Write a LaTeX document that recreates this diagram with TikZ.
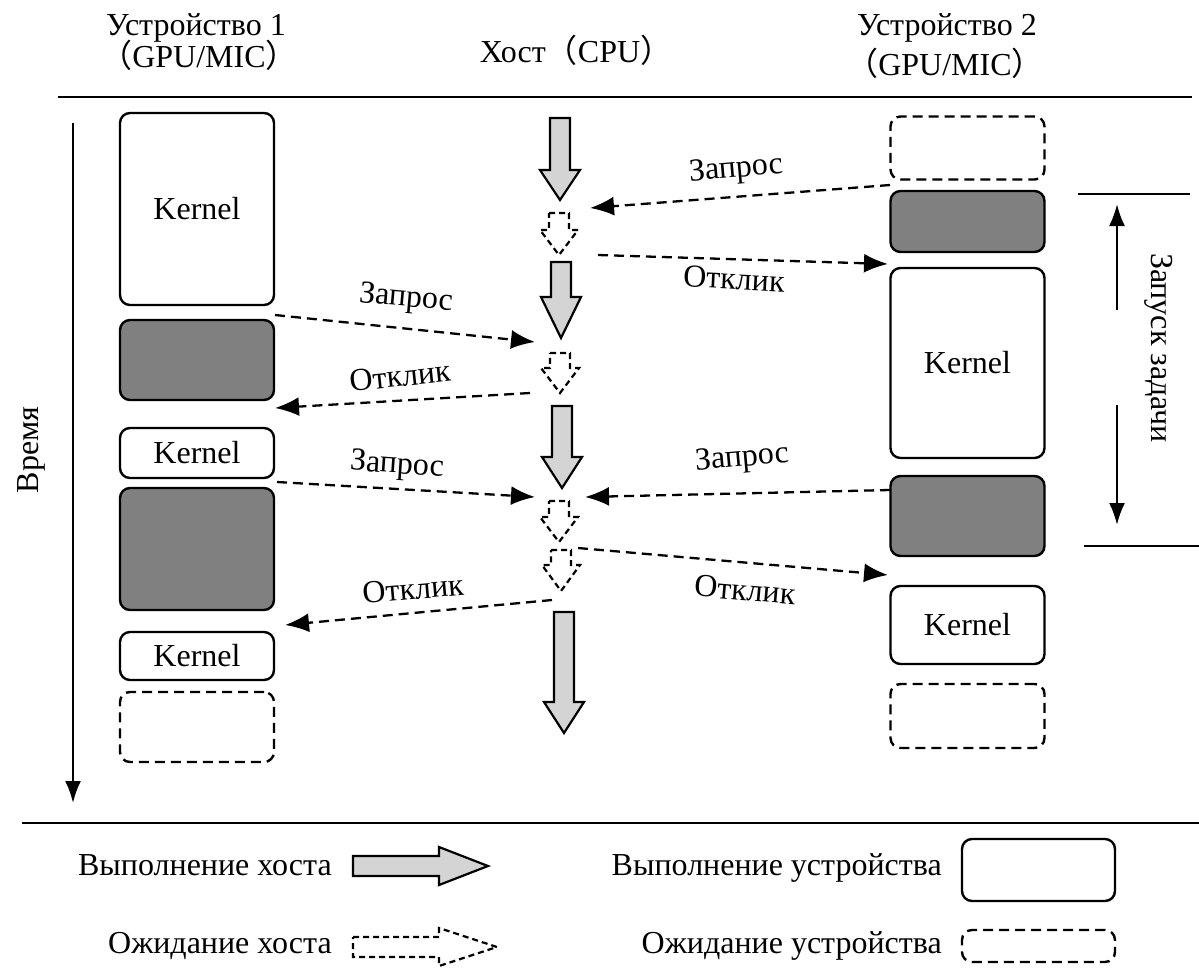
\documentclass[tikz,border=0pt]{standalone}
\usepackage{fontspec}
\setmainfont{Liberation Serif}
\newfontfamily\cjkfont{Noto Sans CJK SC}
\usetikzlibrary{arrows.meta}

% full-width brackets
\newcommand\fwl{{\cjkfont （}}
\newcommand\fwr{{\cjkfont ）}}

% downward block arrow: style, centre x, top, head start, tip, head half-width
\newcommand\vblock[6]{%
  \draw[#1] ({#2-10},#3) -- ({#2+10},#3) -- ({#2+10},#4) -- ({#2+#6},#4)
    -- (#2,#5) -- ({#2-#6},#4) -- ({#2-10},#4) -- cycle;}
% rightward block arrow: style, centre y, left, head start, tip, head half-width
\newcommand\hblock[6]{%
  \draw[#1] (#3,{#2-10}) -- (#4,{#2-10}) -- (#4,{#2-#6}) -- (#5,#2)
    -- (#4,{#2+#6}) -- (#4,{#2+10}) -- (#3,{#2+10}) -- cycle;}

\begin{document}
\begin{tikzpicture}[x=1pt,y=-1pt,
  lbl/.style={font=\fontsize{32}{36}\selectfont, inner sep=0pt},
  run/.style={draw, line width=2.4pt, rounded corners=10pt, fill=white,
    inner sep=0pt, font=\fontsize{32}{36}\selectfont},
  busy/.style={run, fill=black!50},
  idle/.style={run, dash pattern=on 10pt off 6pt},
  msg/.style={line width=2.3pt, dash pattern=on 10pt off 6pt,
    -{Latex[length=24pt,width=19pt]}},
  hostrun/.style={draw, line width=2.2pt, fill=black!17, line join=miter},
  hostwait/.style={draw, line width=2.2pt, fill=white, dash pattern=on 6pt off 4pt},
  rulel/.style={line width=2.6pt},
  barl/.style={line width=2.2pt},
  timel/.style={line width=2.4pt, -{Latex[length=22pt,width=16pt]}}
]
\useasboundingbox (0,0) rectangle (1199,967);

% column headings
\node[lbl, anchor=base] (dev1) at (196,35) {Устройство 1};
\node[lbl, anchor=base] (dev1t) at (199,67) {\fwl GPU/MIC\fwr};
\node[lbl, anchor=base] (host) at (576,62) {Хост\fwl CPU\fwr};
\node[lbl, anchor=base] (dev2) at (947,35) {Устройство 2};
\node[lbl, anchor=base] (dev2t) at (945,75) {\fwl GPU/MIC\fwr};

% horizontal rules
\coordinate (ra) at (58,97);  \coordinate (rb) at (1192,97);
\coordinate (rc) at (22,823); \coordinate (rd) at (1199,823);
\draw[rulel] (ra) -- (rb);
\draw[rulel] (rc) -- (rd);

% time axis
\coordinate (t0) at (73,123); \coordinate (t1) at (73,803);
\draw[timel] (t0) -- (t1);
\node[lbl, rotate=90] (tl) at (31,450) {Время};

% device 1
\node[run,  minimum width=154, minimum height=192] (k1) at (197,209) {Kernel};
\node[busy, minimum width=154, minimum height=80]  (g1) at (197,360) {};
\node[run,  minimum width=154, minimum height=50]  (k2) at (197,453) {Kernel};
\node[busy, minimum width=154, minimum height=122] (g2) at (197,549) {};
\node[run,  minimum width=154, minimum height=48]  (k3) at (197,656) {Kernel};
\node[idle, minimum width=154, minimum height=70]  (w1) at (197,727) {};

% device 2
\node[idle, minimum width=154, minimum height=63]  (w2) at (967.5,148) {};
\node[busy, minimum width=154, minimum height=61]  (g3) at (967.5,221.5) {};
\node[run,  minimum width=154, minimum height=190] (k4) at (967.5,363) {Kernel};
\node[busy, minimum width=154, minimum height=80]  (g4) at (967.5,516) {};
\node[run,  minimum width=154, minimum height=78]  (k5) at (967.5,625) {Kernel};
\node[idle, minimum width=154, minimum height=64]  (w3) at (967.5,716) {};

% host timeline
\vblock{hostrun}{560}{118}{170}{200}{20}
\vblock{hostwait}{559}{213}{230}{255}{19}
\vblock{hostrun}{561}{262}{297}{338}{20}
\vblock{hostwait}{560}{353}{368}{393}{19}
\vblock{hostrun}{562}{406}{457}{488}{20}
\vblock{hostwait}{559}{501}{517}{542}{19}
\vblock{hostwait}{561}{550}{565}{591}{19}
\vblock{hostrun}{564}{612}{702}{733}{20}

% request / response messages
\coordinate (a1) at (890,185); \coordinate (b1) at (590,208);
\coordinate (a2) at (598,255); \coordinate (b2) at (888,264);
\coordinate (a3) at (275,315); \coordinate (b3) at (535,342);
\coordinate (a4) at (530,393); \coordinate (b4) at (275,408);
\coordinate (a5) at (277,482); \coordinate (b5) at (535,497);
\coordinate (a6) at (890,490); \coordinate (b6) at (585,497);
\coordinate (a7) at (578,548); \coordinate (b7) at (888,575);
\coordinate (a8) at (552,600); \coordinate (b8) at (285,625);
\draw[msg] (a1) -- (b1);
\draw[msg] (a2) -- (b2);
\draw[msg] (a3) -- (b3);
\draw[msg] (a4) -- (b4);
\draw[msg] (a5) -- (b5);
\draw[msg] (a6) -- (b6);
\draw[msg] (a7) -- (b7);
\draw[msg] (a8) -- (b8);

\node[lbl, rotate=5]  (m1) at (736,170) {Запрос};
\node[lbl, rotate=-3] (m2) at (734,279) {Отклик};
\node[lbl, rotate=-5] (m3) at (406,299) {Запрос};
\node[lbl, rotate=6]  (m4) at (400,376) {Отклик};
\node[lbl, rotate=-4] (m5) at (397,466) {Запрос};
\node[lbl, rotate=5]  (m6) at (742,459) {Запрос};
\node[lbl, rotate=-5] (m7) at (745,590) {Отклик};
\node[lbl, rotate=5]  (m8) at (413,589) {Отклик};

% task launch span
\coordinate (s1a) at (1078,194); \coordinate (s1b) at (1190,194);
\coordinate (s2a) at (1084,546); \coordinate (s2b) at (1199,546);
\draw[barl] (s1a) -- (s1b);
\draw[barl] (s2a) -- (s2b);
\coordinate (u0) at (1117,310); \coordinate (u1) at (1117,204);
\coordinate (d0) at (1117,405); \coordinate (d1) at (1117,525);
\draw[timel] (u0) -- (u1);
\draw[timel] (d0) -- (d1);
\node[lbl, rotate=-90] (task) at (1159,348) {Запуск задачи};

% legend
\node[lbl, anchor=base east] (lg1) at (332,875) {Выполнение хоста};
\hblock{hostrun}{866}{353}{439}{488}{19}
\node[lbl, anchor=base east] (lg2) at (942,875) {Выполнение устройства};
\node[run, minimum width=153, minimum height=62] (lg3) at (1038.5,870) {};
\node[lbl, anchor=base east] (lg4) at (332,953) {Ожидание хоста};
\hblock{hostwait}{947}{353}{439}{497}{19}
\node[lbl, anchor=base east] (lg5) at (942,953) {Ожидание устройства};
\node[idle, minimum width=153, minimum height=32] (lg6) at (1038.5,946) {};
\end{tikzpicture}
\end{document}
